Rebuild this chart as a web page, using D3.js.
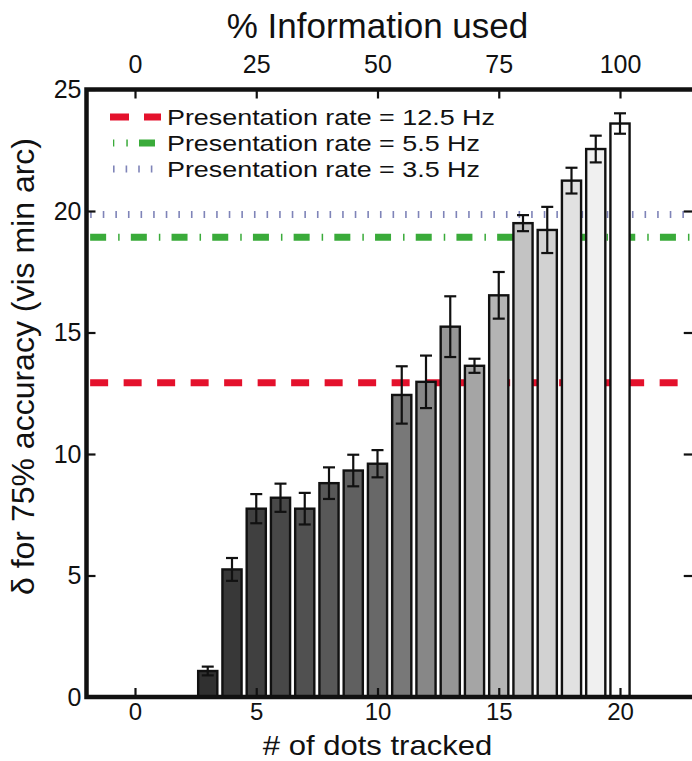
<!DOCTYPE html>
<html><head><meta charset="utf-8">
<script src="https://cdn.jsdelivr.net/npm/d3@7/dist/d3.min.js"></script>
<style>
html,body{margin:0;padding:0;background:#fff;}
svg{display:block;font-family:"Liberation Sans",Arial,Helvetica,sans-serif;}
</style></head>
<body><svg id="chart" width="692" height="761"></svg>
<script>
// ---- data ----
const dots = [3,4,5,6,7,8,9,10,11,12,13,14,15,16,17,18,19,20];
const delta = [1.07,5.25,7.75,8.2,7.75,8.8,9.32,9.6,12.43,12.97,15.24,13.63,16.53,19.5,19.22,21.25,22.55,23.6];
const errSE = [0.18,0.47,0.6,0.58,0.65,0.65,0.65,0.56,1.18,1.08,1.25,0.29,0.96,0.33,0.95,0.53,0.55,0.42];
const refLabels = ["Presentation rate = 12.5 Hz","Presentation rate = 5.5 Hz","Presentation rate = 3.5 Hz"];
const refValues = [12.93, 18.92, 19.86];
const bottomTicks = [0,5,10,15,20];
const topTicks = [0,25,50,75,100];
const leftTicks = [0,5,10,15,20,25];

// ---- scales ----
const svg = d3.select("#chart");
const x = d3.scaleLinear().domain([-2,23]).range([86.5,692.75]);
const y = d3.scaleLinear().domain([0,25]).range([697,89.5]);
const pct = d3.scaleLinear().domain([0,100]).range([x(0),x(20)]);
const gray = d3.scaleLinear().domain([3,10,11,20]).range(["#303030","#686868","#787878","#ffffff"]);

const refStyles = [
  {color:"#e4112c", dash:"18,15.5", width:7},
  {color:"#3aab3a", dash:"16,12,1.5,11.2", width:7},
  {color:"#7f84b8", dash:"1.6,11", width:7}
];

// ---- reference lines (behind bars) ----
svg.append("g").selectAll("line").data(refValues).join("line")
  .attr("x1", x(-1.85)).attr("x2", 692)
  .attr("y1", d=>y(d)).attr("y2", d=>y(d))
  .attr("stroke",(d,i)=>refStyles[i].color)
  .attr("stroke-width",(d,i)=>refStyles[i].width)
  .attr("stroke-dasharray",(d,i)=>refStyles[i].dash);

// ---- bars ----
const bw = 0.79;
svg.append("g").selectAll("rect").data(dots).join("rect")
  .attr("x", d=>x(d-bw/2)).attr("width", x(bw)-x(0))
  .attr("y", (d,i)=>y(delta[i])).attr("height",(d,i)=>y(0)-y(delta[i]))
  .attr("fill", d=>gray(d)).attr("stroke","#111").attr("stroke-width",2.4);

// ---- error bars ----
const eb = svg.append("g").attr("stroke","#111").attr("stroke-width",2.2);
const cap = 6;
dots.forEach((d,i)=>{
  const cx = x(d), t = y(delta[i]+errSE[i]), b = y(delta[i]-errSE[i]);
  eb.append("line").attr("x1",cx).attr("x2",cx).attr("y1",t).attr("y2",b);
  eb.append("line").attr("x1",cx-cap).attr("x2",cx+cap).attr("y1",t).attr("y2",t);
  eb.append("line").attr("x1",cx-cap).attr("x2",cx+cap).attr("y1",b).attr("y2",b);
});

// ---- axes ----
const tickLen = 9;
const gB = svg.append("g").attr("transform",`translate(0,${y(0)})`)
  .call(d3.axisBottom(x).tickValues(bottomTicks).tickSize(-tickLen).tickPadding(6).tickFormat(d3.format("d")));
const gT = svg.append("g").attr("transform",`translate(0,${y(25)})`)
  .call(d3.axisTop(pct).tickValues(topTicks).tickSize(-tickLen).tickPadding(17).tickFormat(d3.format("d")));
const gL = svg.append("g").attr("transform",`translate(${x(-2)},0)`)
  .call(d3.axisLeft(y).tickValues(leftTicks).tickSize(-tickLen).tickPadding(5).tickFormat(d3.format("d")));
const gR = svg.append("g").attr("transform",`translate(${x(23)},0)`)
  .call(d3.axisRight(y).tickValues(leftTicks.slice(1,-1)).tickSize(-tickLen).tickFormat(""));
[gB,gT,gL,gR].forEach(g=>{
  g.select(".domain").remove();
  g.selectAll(".tick line").attr("stroke","#111").attr("stroke-width",2.2);
  g.selectAll("text").attr("fill","#111").style("font-size","25px")
   .style("font-family",'"Liberation Sans",Arial,Helvetica,sans-serif');
});
gB.selectAll("text").style("font-size","24px");

// ---- frame ----
svg.append("rect")
  .attr("x",x(-2)).attr("y",y(25)).attr("width",x(23)-x(-2)+4).attr("height",y(0)-y(25))
  .attr("fill","none").attr("stroke","#111").attr("stroke-width",4.5);

// ---- legend ----
const lg = svg.append("g");
refLabels.forEach((lab,i)=>{
  const ly = 117 + i*26;
  const st = refStyles[i];
  const off = i===1 ? 14.7 : 0;
  lg.append("line").attr("x1",i===0?110:113).attr("x2",161).attr("y1",ly).attr("y2",ly)
    .attr("stroke",st.color).attr("stroke-width",st.width)
    .attr("stroke-dasharray", i===0 ? "19,15" : st.dash)
    .attr("stroke-dashoffset", off);
  lg.append("text").attr("transform",`translate(167,${ly}) scale(1.2,1)`).attr("dy","0.36em")
    .style("font-size","22.4px").attr("fill","#111").text(lab);
});

// ---- titles ----
svg.append("text").attr("x",x(10)).attr("y",38).attr("text-anchor","middle")
  .style("font-size","35px").attr("fill","#111").text("% Information used");
svg.append("text").attr("transform",`translate(${x(10)},755) scale(1.15,1)`).attr("text-anchor","middle")
  .style("font-size","27px").attr("fill","#111").text("# of dots tracked");
svg.append("text").attr("transform",`translate(34,${y(13.6)}) rotate(-90)`)
  .attr("text-anchor","middle").style("font-size","32px").attr("fill","#111")
  .text("δ for 75% accuracy (vis min arc)");
</script></body></html>
